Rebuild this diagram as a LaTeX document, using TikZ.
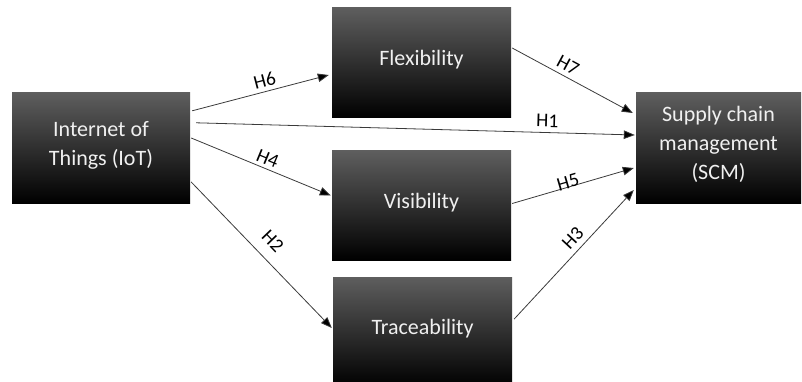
\documentclass[tikz,border=0pt]{standalone}
\usepackage{fontspec}
\setmainfont{Carlito}
\usetikzlibrary{arrows.meta,calc}
\definecolor{txt}{HTML}{F0F0F0}
\definecolor{topg}{HTML}{5E5E5E}
\definecolor{linec}{HTML}{3A3A3A}
\begin{document}
\begin{tikzpicture}[x=1pt,y=-1pt,
  box/.style={rectangle, inner sep=0pt, minimum width=179pt, minimum height=110pt,
    top color=topg, middle color=black, bottom color=black, draw=none,
    text=txt, align=center, text depth=10pt, font=\fontsize{22}{29}\selectfont},
  conn/.style={draw=linec, line width=0.8pt, -{Triangle[length=11pt,width=8.5pt,fill=black]}},
  lbl/.style={font=\fontsize{19.5}{22}\selectfont, text=black, inner sep=0pt, sloped}]
\useasboundingbox (0,0) rectangle (802,382);
\clip (0,0) rectangle (802,382);
\node[box, minimum width=178pt] (iot) at (101,148) {Internet of\\Things (IoT)};
\node[box] (flex) at (421.5,63) {Flexibility};
\node[box, minimum height=109pt] (vis) at (421.5,205.5) {Visibility};
\node[box] (trace) at (422.5,332) {Traceability};
\node[box, minimum width=165pt] (scm) at (718.5,148) {Supply chain\\management\\(SCM)};
\draw[conn] ($(iot.north east)+(2,18)$) -- node[lbl, pos=0.55, above=3.5pt] {H6} ($(flex.west)+(-3,12)$);
\draw[conn] ($(iot.north east)+(6,30)$) -- node[lbl, pos=0.80, above=5pt] {H1} ($(scm.west)+(-1,-13)$);
\draw[conn] ($(flex.east)+(1,-15)$) -- node[lbl, pos=0.42, above=4.5pt] {H7} ($(scm.west)+(-3,-35)$);
\draw[conn] ($(iot.east)+(1,-10)$) -- node[lbl, pos=0.52, above=3.5pt] {H4} ($(vis.west)+(-1,-10)$);
\draw[conn] ($(iot.east)+(1,34)$) -- node[lbl, pos=0.49, above=11pt] {H2} ($(trace.west)+(-1,-4)$);
\draw[conn] ($(vis.east)+(1,-2)$) -- node[lbl, pos=0.47, above=-2pt] {H5} ($(scm.west)+(-2,20)$);
\draw[conn] ($(trace.east)+(2,-13)$) -- node[lbl, pos=0.565, above=5.5pt] {H3} ($(scm.west)+(-2,42)$);
\end{tikzpicture}
\end{document}
